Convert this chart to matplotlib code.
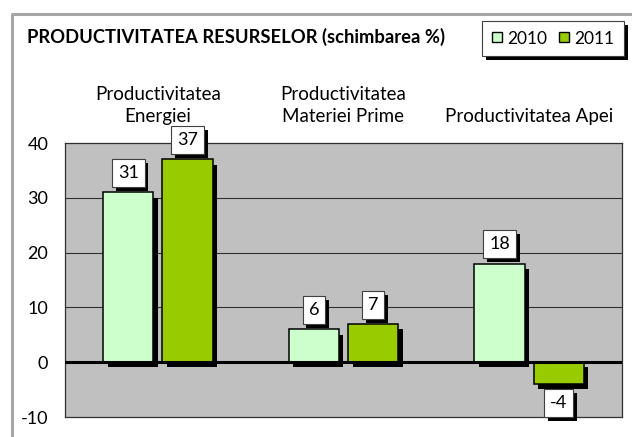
import numpy as np
import matplotlib
matplotlib.use('Agg')
import matplotlib.pyplot as plt
import matplotlib.patheffects as pe
from matplotlib.lines import Line2D

# --- data ---
categories = ['Productivitatea\nEnergiei', 'Productivitatea\nMateriei Prime', 'Productivitatea Apei']
years = ['2010', '2011']
values_2010 = [31, 6, 18]
values_2011 = [37, 7, -4]
colors = ['#ccffcc', '#99cc00']

plt.rcParams['font.family'] = ['Lato', 'DejaVu Sans']

W, H = 632, 437
fig = plt.figure(figsize=(W / 100, H / 100), dpi=100)

# axes placed in pixel terms
left, right, top, bottom = 65, 622, 143, 417
ax = fig.add_axes([left / W, 1 - bottom / H, (right - left) / W, (bottom - top) / H])
ax.set_facecolor('#c0c0c0')

x = np.arange(len(categories))
width = 0.27
offsets = [-0.16, 0.16]
shadow = [pe.SimplePatchShadow(offset=(3.2, -3.8), shadow_rgbFace='black', alpha=1.0), pe.Normal()]

for vals, off, col in zip([values_2010, values_2011], offsets, colors):
    bars = ax.bar(x + off, vals, width, color=col, edgecolor='black', linewidth=1.1, zorder=3)
    for b, v in zip(bars, vals):
        b.set_path_effects(shadow)
        t = ax.annotate(str(v), (b.get_x() + b.get_width() / 2, v),
                        xytext=(0, 8 if v >= 0 else -8), textcoords='offset points',
                        ha='center', va='bottom' if v >= 0 else 'top', fontsize=13, zorder=5,
                        bbox=dict(boxstyle='square,pad=0.33', fc='white', ec='#404040', lw=0.8))
        t.get_bbox_patch().set_path_effects(
            [pe.SimplePatchShadow(offset=(2.8, -2.8), shadow_rgbFace='black', alpha=1.0), pe.Normal()])

ax.set_xlim(-0.5, 2.5)
ax.set_ylim(-10, 40)
ax.set_yticks([-10, 0, 10, 20, 30, 40])
ax.set_yticklabels(['-10', '0', '10', '20', '30', '40'])
ax.tick_params(axis='y', length=0, pad=12, labelsize=13)

ax.xaxis.tick_top()
ax.set_xticks(x)
ax.set_xticklabels(categories, fontsize=13.5, linespacing=1.35)
ax.tick_params(axis='x', length=0, pad=13)

for g in [10, 20, 30]:
    ax.axhline(g, color='#303030', lw=0.8, zorder=1)
ax.axhline(0, color='black', lw=2.2, zorder=4)
for s in ax.spines.values():
    s.set_color('#303030')
    s.set_linewidth(0.9)

# title
fig.text(27 / W, 1 - 37 / H, 'PRODUCTIVITATEA RESURSELOR (schimbarea %)',
         fontsize=13.2, fontweight='bold', ha='left', va='center')

# legend
handles = [Line2D([], [], marker='s', ls='none', markersize=7, mfc=c, mec='black', mew=1.0) for c in colors]
leg = fig.legend(handles, years, loc='upper right', bbox_to_anchor=(624 / W, 1 - 21 / H),
                 ncol=2, fontsize=12.5, frameon=True, fancybox=False, edgecolor='#404040',
                 framealpha=1.0, facecolor='white',
                 handlelength=0.7, handletextpad=0.25, columnspacing=0.6, borderpad=0.55,
                 borderaxespad=0)
leg.get_frame().set_linewidth(0.8)
leg.get_frame().set_path_effects(
    [pe.SimplePatchShadow(offset=(3, -3), shadow_rgbFace='black', alpha=1.0), pe.Normal()])

# outer chart frame (grey)
fig.add_artist(Line2D([11.5 / W, 11.5 / W, 1.0], [0, 1 - 13.5 / H, 1 - 13.5 / H],
                      transform=fig.transFigure, color='#a6a6a6', lw=2.2))

fig.savefig('out.png', dpi=100)
